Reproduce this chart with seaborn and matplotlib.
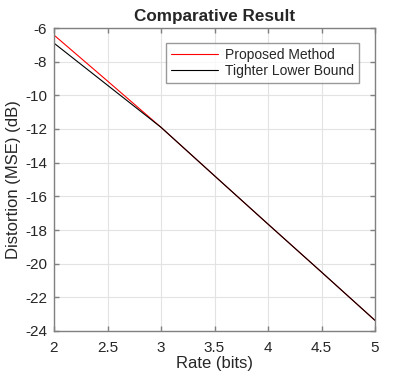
import numpy as np
import pandas as pd
import matplotlib
matplotlib.use("Agg")
import matplotlib.pyplot as plt
import seaborn as sns

rate = [2.0, 2.5, 3.0, 3.5, 4.0, 4.5, 5.0]
proposed = [-6.42, -9.15, -11.9, -14.78, -17.65, -20.5, -23.37]
lower_bound = [-6.9, -9.4, -11.9, -14.78, -17.65, -20.5, -23.37]
series_names = ["Proposed Method", "Tighter Lower Bound"]
x_ticks = [2, 2.5, 3, 3.5, 4, 4.5, 5]
y_ticks = list(range(-24, -5, 2))

df = pd.DataFrame({
    "Rate": rate * 2,
    "Distortion": proposed + lower_bound,
    "Series": [series_names[0]] * len(rate) + [series_names[1]] * len(rate),
})

sns.set_theme(style="white")
plt.rcParams["font.family"] = ["Liberation Sans", "DejaVu Sans"]

fig = plt.figure(figsize=(4.15, 3.78), dpi=100)
ax = fig.add_axes([54/415, 47/378, 321/415, 303/378])

sns.lineplot(data=df, x="Rate", y="Distortion", hue="Series",
             palette={series_names[0]: "#ff0000", series_names[1]: "#000000"},
             linewidth=0.8, ax=ax)

ax.set_xlim(2, 5)
ax.set_ylim(-24, -6)
ax.set_xticks(x_ticks)
ax.set_xticklabels([f"{t:g}" for t in x_ticks])
ax.set_yticks(y_ticks)
ax.set_yticklabels([f"{t}" for t in y_ticks])
ax.grid(True, color="#e3e3e3", linewidth=0.8)
ax.set_axisbelow(True)
for s in ax.spines.values():
    s.set_visible(True)
    s.set_color("#808080")
    s.set_linewidth(1.0)
ax.tick_params(direction="in", length=3.5, width=1.0, color="#808080",
               labelsize=11, labelcolor="#262626", top=True, right=True,
               bottom=True, left=True, pad=5)
ax.tick_params(axis="x", pad=7)
ax.set_xlabel("Rate (bits)", fontsize=12, color="#262626", labelpad=1)
ax.set_ylabel("Distortion (MSE) (dB)", fontsize=12, color="#262626", labelpad=3)
ax.set_title("Comparative Result", fontsize=12.3, fontweight="bold", pad=5)

leg = ax.legend(loc="upper right", bbox_to_anchor=(0.95, 0.95), fontsize=10,
                frameon=True, fancybox=False, edgecolor="#808080",
                handlelength=3.4, borderpad=0.35, labelspacing=0.15,
                handletextpad=0.5, borderaxespad=0.0)
leg.get_frame().set_linewidth(1.0)

fig.savefig("out.png", dpi=100)
